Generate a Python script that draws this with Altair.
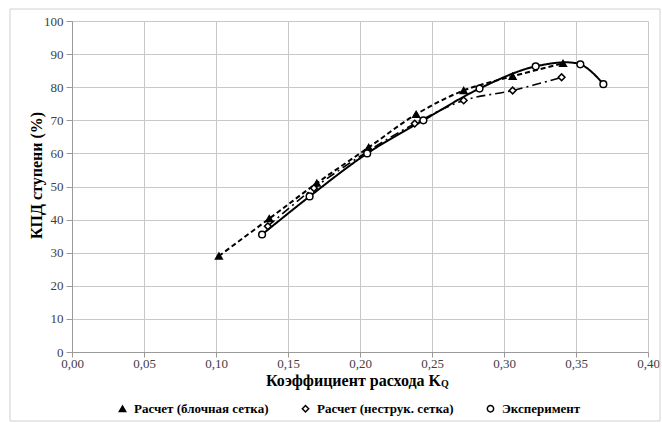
import altair as alt
import pandas as pd

series_names = ["Расчет (блочная сетка)", "Расчет (неструк. сетка)", "Эксперимент"]

kq_block = [0.102, 0.137, 0.170, 0.206, 0.239, 0.272, 0.306, 0.341]
eff_block = [29.0, 40.3, 51.0, 61.8, 71.8, 79.0, 83.3, 87.2]

kq_unstr = [0.136, 0.168, 0.205, 0.238, 0.272, 0.306, 0.340]
eff_unstr = [38.0, 49.5, 60.5, 69.0, 76.0, 79.0, 83.0]

kq_exp = [0.132, 0.165, 0.205, 0.244, 0.283, 0.322, 0.353, 0.369]
eff_exp = [35.5, 47.0, 60.0, 70.0, 79.6, 86.3, 86.9, 80.9]

x_ticks = [0, 0.05, 0.1, 0.15, 0.2, 0.25, 0.3, 0.35, 0.4]
y_ticks = [0, 10, 20, 30, 40, 50, 60, 70, 80, 90, 100]

rows = []
for name, xs, ys in zip(series_names, [kq_block, kq_unstr, kq_exp], [eff_block, eff_unstr, eff_exp]):
    for i, (a, b) in enumerate(zip(xs, ys)):
        rows.append({"series": name, "kq": a, "eff": b, "order": i})
df = pd.DataFrame(rows)

FONT = "Liberation Serif"

x_enc = alt.X("kq:Q", scale=alt.Scale(domain=[0, 0.4], nice=False),
              axis=alt.Axis(values=x_ticks,
                            labelExpr="replace(format(datum.value, '.2f'), '.', ',')",
                            title="Коэффициент  расхода K", titleX=281, titleY=33,
                            titleAlign="center", titleBaseline="alphabetic",
                            labelPadding=0, tickSize=5))
y_enc = alt.Y("eff:Q", scale=alt.Scale(domain=[0, 100], nice=False),
              axis=alt.Axis(values=y_ticks, title="КПД ступени (%)", titleX=-31, titleY=154,
                            titleAngle=270, titleAlign="center", titleBaseline="alphabetic",
                            labelPadding=3, tickSize=6))

base = alt.Chart(df)

line_styles = [([5, 3], 2.0), ([9, 4, 2, 4], 1.6), ([1, 0], 2.0)]
line_layers = []
for name, (dash, width) in zip(series_names, line_styles):
    line_layers.append(
        base.transform_filter(alt.datum.series == name)
        .mark_line(interpolate="catmull-rom", color="black", strokeDash=dash, strokeWidth=width)
        .encode(x=x_enc, y=y_enc, order="order:Q")
    )

leg = alt.Legend(title=None, orient="none", legendX=44, legendY=381, direction="horizontal")

points = base.mark_point(filled=True, strokeWidth=1.5, opacity=1, size=45).encode(
    x=x_enc, y=y_enc,
    shape=alt.Shape("series:N", scale=alt.Scale(domain=series_names,
                    range=["triangle-up", "diamond", "circle"]), legend=leg),
    fill=alt.Fill("series:N", scale=alt.Scale(domain=series_names, range=["black", "white", "white"]),
                  legend=leg),
    stroke=alt.Stroke("series:N", scale=alt.Scale(domain=series_names, range=["black", "black", "black"]),
                      legend=leg),
)

one = base.transform_filter("datum.order == 0 && datum.series == 'Эксперимент'")

sub_q = one.mark_text(text="Q", font=FONT, fontSize=10, fontWeight="bold",
                      align="left", baseline="alphabetic").encode(
    x=alt.value(369), y=alt.value(366))

frame = one.mark_rect(fillOpacity=0, stroke="#d0d0d0", strokeWidth=1).encode(
    x=alt.value(-62), x2=alt.value(588), y=alt.value(-12), y2=alt.value(400))

chart = alt.layer(frame, *line_layers, points, sub_q).properties(
    width=576, height=331,
    padding={"left": 72, "top": 21, "right": 14, "bottom": 71},
    autosize=alt.AutoSizeParams(type="none"),
).configure(background="white", font=FONT).configure_view(stroke=None).configure_axis(
    titleFont=FONT, labelFont=FONT,
    titleFontSize=16, titleFontWeight="bold", titleColor="black",
    labelFontSize=13, labelColor="#404040",
    gridColor="#c8c8c8", domainColor="#9a9a9a", tickColor="#9a9a9a",
    labelFlush=False, labelOverlap=False,
).configure_legend(
    labelFont=FONT, labelFontSize=13, labelFontWeight="bold", labelColor="black",
    columnPadding=30, labelOffset=5, symbolStrokeWidth=1.5, symbolSize=40,
)

chart.save("out.html", embed_options={"renderer": "svg", "actions": False})
